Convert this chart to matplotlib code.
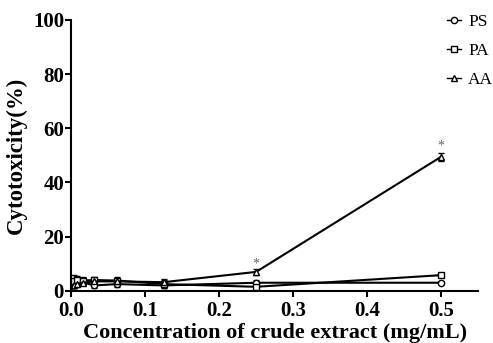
import numpy as np
import matplotlib
matplotlib.use('Agg')
import matplotlib.pyplot as plt
from matplotlib.lines import Line2D

conc = [0.0, 0.0039, 0.0078, 0.0156, 0.03125, 0.0625, 0.125, 0.25, 0.5]
ps = [0.5, 2.5, 3.0, 3.2, 2.0, 2.5, 2.0, 3.0, 3.0]
ps_err = [0.5, 1.5, 1.0, 1.0, 1.0, 1.0, 1.0, 1.0, 0.5]
pa = [0.5, 3.5, 4.0, 3.8, 4.0, 3.8, 2.5, 1.5, 5.8]
pa_err = [0.5, 2.5, 1.5, 1.5, 1.0, 1.5, 1.5, 1.0, 0.8]
aa = [0.5, 2.0, 2.5, 3.0, 3.5, 3.5, 3.2, 7.0, 49.5]
aa_err = [0.5, 1.0, 1.0, 1.0, 1.0, 1.0, 1.0, 1.0, 1.5]
star_x = [0.25, 0.5]
star_y = [10.0, 53.5]

plt.rcParams['font.family'] = ['Liberation Serif', 'DejaVu Serif']

fig = plt.figure(figsize=(4.93, 3.43), dpi=100)
ax = fig.add_axes([0.144, 0.152, 0.826, 0.79])

series = [('PS', ps, ps_err, 'o'), ('PA', pa, pa_err, 's'), ('AA', aa, aa_err, '^')]
handles = []
for name, y, err, m in series:
    ax.errorbar(conc, y, yerr=err, color='black', lw=1.5, marker=m, ms=4.5,
                mfc='white', mec='black', mew=1.0, capsize=2.5, elinewidth=1.0,
                capthick=1.0)
    handles.append(Line2D([], [], color='black', lw=1.0, marker=m, ms=4.5,
                          mfc='white', mec='black', mew=1.0, label=name))

for sx, sy in zip(star_x, star_y):
    ax.text(sx, sy, '*', ha='center', va='center', fontsize=10, color='#666666')

ax.set_xlim(0, 0.55)
ax.set_ylim(0, 100)
ax.set_xticks([0.0, 0.1, 0.2, 0.3, 0.4, 0.5])
ax.set_yticks([0, 20, 40, 60, 80, 100])
ax.set_xticklabels(['0.0', '0.1', '0.2', '0.3', '0.4', '0.5'])
for s in ['top', 'right']:
    ax.spines[s].set_visible(False)
for s in ['left', 'bottom']:
    ax.spines[s].set_linewidth(1.5)
ax.tick_params(direction='out', width=1.5, length=4, labelsize=15, pad=1)
ax.tick_params(axis='x', pad=3)
for lbl in ax.get_xticklabels() + ax.get_yticklabels():
    lbl.set_fontweight('bold')

ax.set_xlabel('Concentration of crude extract (mg/mL)', fontsize=16, fontweight='bold', labelpad=2)
ax.set_ylabel('Cytotoxicity(%)', fontsize=16.5, fontweight='bold', labelpad=4)

ax.legend(handles=handles, loc='upper right', frameon=False, fontsize=12.5,
          handlelength=0.8, labelspacing=0.75, handletextpad=0.4,
          bbox_to_anchor=(1.075, 1.08))

plt.savefig('out.png', dpi=100)
